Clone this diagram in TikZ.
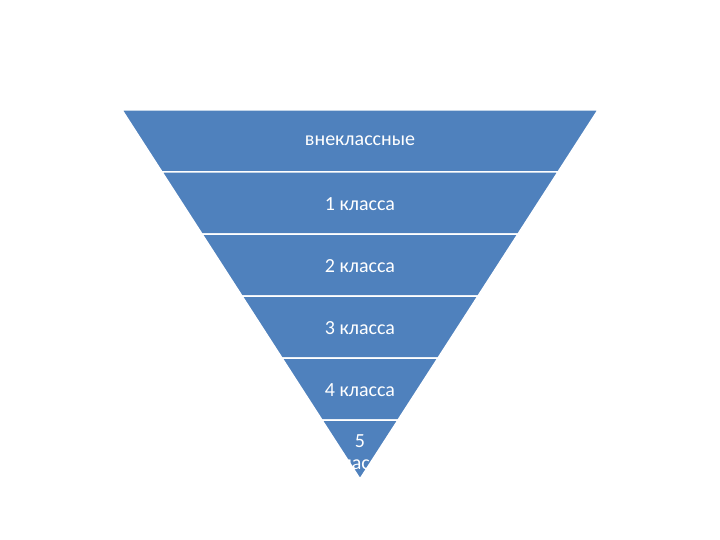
\documentclass[tikz,border=0pt]{standalone}
\usepackage{fontspec}
\setmainfont{Carlito}
\definecolor{blu}{HTML}{4F81BD}
\begin{document}
\begin{tikzpicture}[x=1pt,y=-1pt,
  band/.style={fill=blu,draw=white,line width=1.5pt},
  lbl/.style={text=white,font=\fontsize{20}{24}\selectfont,align=center}]
\useasboundingbox (0,0) rectangle (720,540);
\fill[white] (0,0) rectangle (720,540);
% apex (360,479), top y=110 half width 238
\foreach \i in {0,...,4}{
  \pgfmathsetmacro{\ya}{110+62*\i}
  \pgfmathsetmacro{\yb}{110+62*(\i+1)}
  \pgfmathsetmacro{\wa}{(479-\ya)*0.645}
  \pgfmathsetmacro{\wb}{(479-\yb)*0.645}
  \path[band] (360-\wa,\ya) -- (360+\wa,\ya) -- (360+\wb,\yb) -- (360-\wb,\yb) -- cycle;
}
\path[band] (360-38.1,420) -- (360+38.1,420) -- (360,479) -- cycle;
\node[lbl] (n0) at (360,141) {внеклассные};
\node[lbl] (n1) at (360,204) {1 класса};
\node[lbl] (n2) at (360,266) {2 класса};
\node[lbl] (n3) at (360,328) {3 класса};
\node[lbl] (n4) at (360,390) {4 класса};
\node[lbl] (n5) at (360,452) {5\\[-2pt]класса};
\end{tikzpicture}
\end{document}
